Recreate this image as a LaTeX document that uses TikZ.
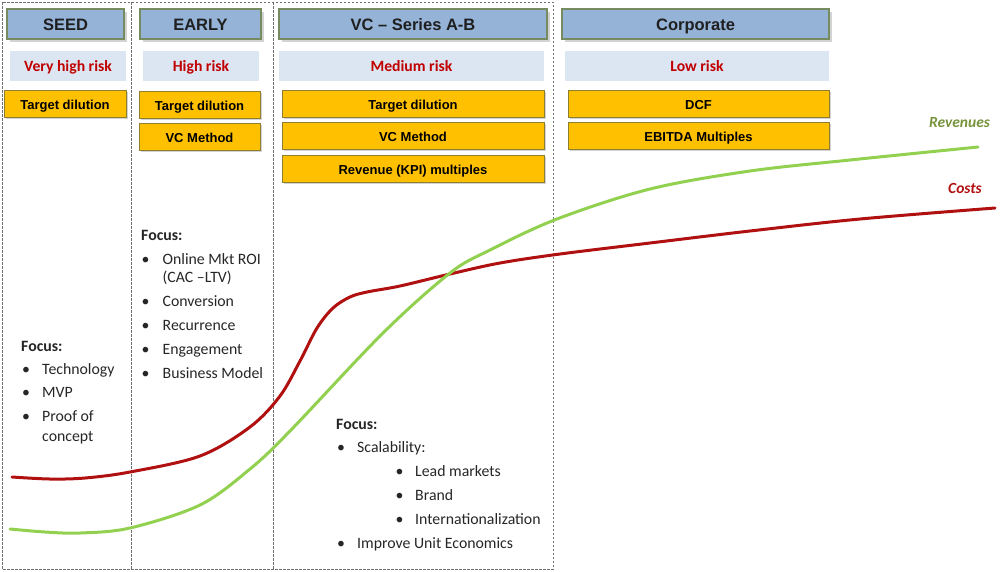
\documentclass[tikz,border=0pt]{standalone}
\usepackage{fontspec}
\setmainfont{Carlito}
\newfontfamily\arialf{Liberation Sans}
\usetikzlibrary{shadows}
\definecolor{hdrfill}{RGB}{149,179,215}
\definecolor{hdrdraw}{RGB}{118,140,96}
\definecolor{riskfill}{RGB}{220,230,242}
\definecolor{riskred}{RGB}{192,0,0}
\definecolor{ylwfill}{RGB}{255,192,0}
\definecolor{ylwdraw}{RGB}{140,128,48}
\definecolor{costred}{RGB}{176,16,16}
\definecolor{revgreen}{RGB}{146,208,80}
\definecolor{revlabel}{RGB}{119,147,60}
\definecolor{dashgray}{RGB}{110,110,110}
\begin{document}
\begin{tikzpicture}[x=1pt,y=-1pt,
  frame/.style={draw=dashgray, line width=0.8pt, dash pattern=on 2.5pt off 1.5pt},
  hdr/.style={draw=hdrdraw, line width=1.2pt, fill=hdrfill, minimum height=30pt, inner sep=0pt,
    drop shadow={opacity=0.35, shadow xshift=2.5pt, shadow yshift=-2.5pt},
    font=\arialf\bfseries\fontsize{16.5}{18}\selectfont, text=black!88,
    text height=12.8pt, text depth=0pt},
  riskbox/.style={fill=riskfill, minimum height=30pt, inner sep=0pt,
    font=\bfseries\fontsize{15.7}{18}\selectfont, text=riskred,
    text height=10pt, text depth=0pt},
  ylw/.style={draw=ylwdraw, line width=1pt, fill=ylwfill, minimum height=27pt, inner sep=0pt,
    drop shadow={opacity=0.35, shadow xshift=2pt, shadow yshift=-2pt},
    font=\arialf\bfseries\fontsize{13}{15}\selectfont, text=black,
    text height=11.8pt, text depth=0pt},
  ftxt/.style={anchor=base west, inner sep=0pt, font=\fontsize{15.8}{18}\selectfont, text=black!85},
  curve/.style={line width=3pt, line cap=round}
]
\useasboundingbox (0,0) rectangle (1000,571);
% dashed column frames
\draw[frame] (2,2) rectangle (553,569);
\draw[frame] (131,2) -- (131,569);
\draw[frame] (273,2) -- (273,569);

% curves
\draw[curve, costred] plot[smooth, tension=0.55] coordinates {
  (12,477) (50,479) (85,478) (130,472) (200,456) (250,427) (280,396) (300,361)
  (317,328) (333,308) (350,297) (367,292) (400,286) (450,274) (500,263)
  (560,254) (650,243) (750,231) (860,219) (995,208)};
\draw[curve, revgreen] plot[smooth, tension=0.55] coordinates {
  (10,529) (45,532) (80,533) (130,528) (200,505) (250,469) (290,431)
  (383,333) (450,273) (490,250) (557,219) (650,189) (750,171) (850,160) (978,147)};

% headers
\node[hdr, minimum width=117pt] (hseed) at (65.5,24) {SEED};
\node[hdr, minimum width=121pt] (hearly) at (200.5,24) {EARLY};
\node[hdr, minimum width=268pt] (hvc) at (413,24) {VC – Series A-B};
\node[hdr, minimum width=267pt] (hcorp) at (695.5,24) {Corporate};

% risk
\node[riskbox, minimum width=116pt] (rseed) at (68,66) {Very high risk};
\node[riskbox, minimum width=116pt] (rearly) at (201,66) {High risk};
\node[riskbox, minimum width=265pt] (rvc) at (411.5,66) {Medium risk};
\node[riskbox, minimum width=264pt] (rcorp) at (697,66) {Low risk};

% methods
\node[ylw, minimum width=122pt] (mseed) at (65,103.5) {Target dilution};
\node[ylw, minimum width=121pt] (mearly1) at (199.5,104.5) {Target dilution};
\node[ylw, minimum width=121pt] (mearly2) at (199.5,136.5) {VC Method};
\node[ylw, minimum width=262pt] (mvc1) at (413,103.5) {Target dilution};
\node[ylw, minimum width=262pt] (mvc2) at (413,135.5) {VC Method};
\node[ylw, minimum width=262pt] (mvc3) at (413,168.5) {Revenue (KPI) multiples};
\node[ylw, minimum width=261pt] (mcorp1) at (698.5,103.5) {DCF};
\node[ylw, minimum width=261pt] (mcorp2) at (698.5,135.5) {EBITDA Multiples};

% curve labels
\node[font=\bfseries\itshape\fontsize{15.5}{17}\selectfont, text=revlabel, inner sep=0pt] (lrev) at (959.5,123) {Revenues};
\node[font=\bfseries\itshape\fontsize{15.5}{17}\selectfont, text=costred, inner sep=0pt] (lcost) at (965,188) {Costs};

% SEED focus
\node[ftxt] (sf) at (21,351) {\bfseries Focus:};
\node[ftxt] (sb1) at (22,374.5) {•};
\node[ftxt] (st1) at (42,374.5) {Technology};
\node[ftxt] (sb2) at (22,397.5) {•};
\node[ftxt] (st2) at (42,397.5) {MVP};
\node[ftxt] (sb3) at (22,421.5) {•};
\node[ftxt] (st3) at (42,421.5) {Proof of};
\node[ftxt] (st3b) at (42,441) {concept};

% EARLY focus
\node[ftxt] (ef) at (141,240) {\bfseries Focus:};
\node[ftxt] (eb1) at (141.5,264) {•};
\node[ftxt] (et1) at (162.5,264) {Online Mkt ROI};
\node[ftxt] (et1b) at (162.5,282.5) {(CAC –LTV)};
\node[ftxt] (eb2) at (141.5,306) {•};
\node[ftxt] (et2) at (162.5,306) {Conversion};
\node[ftxt] (eb3) at (141.5,330) {•};
\node[ftxt] (et3) at (162.5,330) {Recurrence};
\node[ftxt] (eb4) at (141.5,354.5) {•};
\node[ftxt] (et4) at (162.5,354.5) {Engagement};
\node[ftxt] (eb5) at (141.5,378.5) {•};
\node[ftxt] (et5) at (162.5,378.5) {Business Model};

% VC focus
\node[ftxt] (vf) at (336,429) {\bfseries Focus:};
\node[ftxt] (vb1) at (337,452.5) {•};
\node[ftxt] (vt1) at (357,452.5) {Scalability:};
\node[ftxt] (vs1) at (395.5,476.5) {•};
\node[ftxt] (vst1) at (415,476.5) {Lead markets};
\node[ftxt] (vs2) at (395.5,500) {•};
\node[ftxt] (vst2) at (415,500) {Brand};
\node[ftxt] (vs3) at (395.5,524.5) {•};
\node[ftxt] (vst3) at (415,524.5) {Internationalization};
\node[ftxt] (vb2) at (337,548.5) {•};
\node[ftxt] (vt2) at (357,548.5) {Improve Unit Economics};
\end{tikzpicture}
\end{document}
